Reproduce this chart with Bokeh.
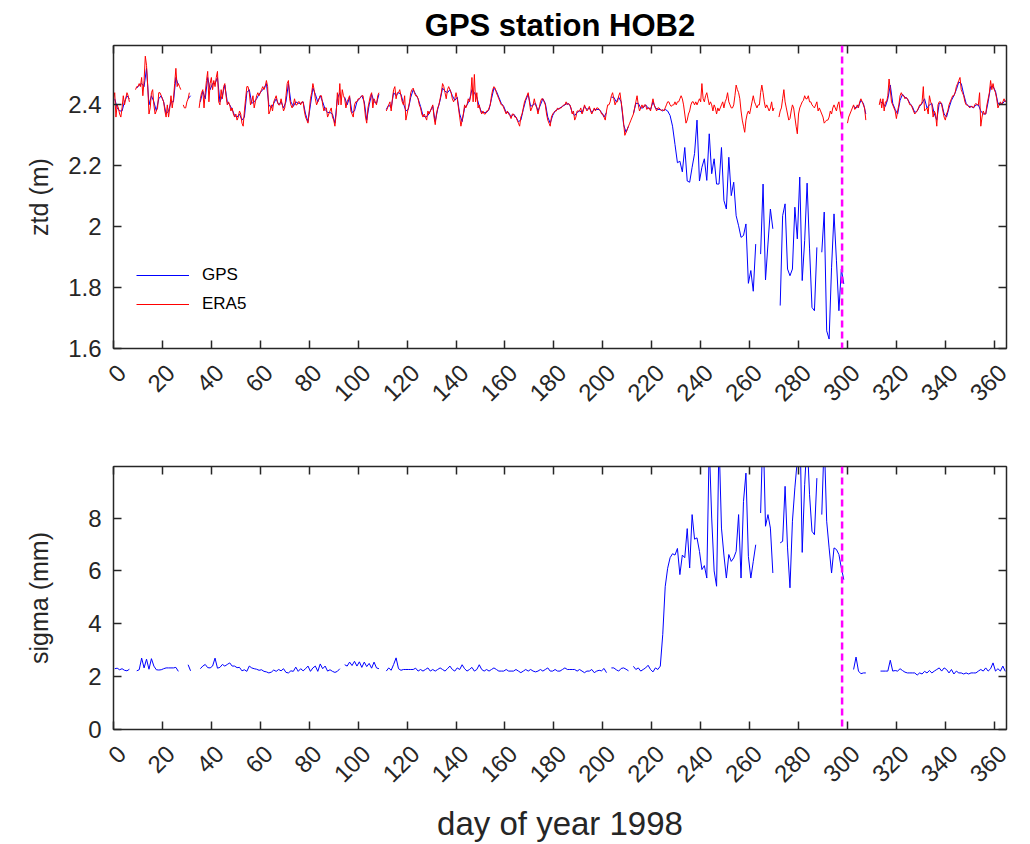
import math
import numpy as np
from bokeh.plotting import figure
from bokeh.layouts import column
from bokeh.models import Range1d, FixedTicker, LinearAxis, Span, Legend, LegendItem
from bokeh.embed import file_html
from bokeh.resources import INLINE

nan = float("nan")

# ERA5 zenith total delay (m), sampled every half day from day 0.0
era5_ztd = [
    2.42, 2.44, 2.36, 2.40, 2.39, 2.37, 2.36, 2.39, 2.43, 2.40, 2.42, 2.44, 2.43, 2.41, nan, nan, nan, nan, 2.45, 2.46,
    2.46, 2.47, 2.46, 2.49, 2.43, 2.48, 2.56, 2.53, 2.46, 2.37, 2.39, 2.44, 2.45, 2.40, 2.37, 2.38, 2.39, 2.44, 2.44, 2.43,
    2.42, 2.41, 2.38, 2.36, 2.40, 2.36, 2.39, 2.43, 2.39, 2.42, 2.47, 2.52, 2.46, 2.47, 2.46, 2.45, nan, 2.40, 2.39, 2.39,
    2.41, 2.42, 2.44, nan, nan, nan, nan, nan, nan, nan, 2.39, 2.42, 2.44, 2.45, 2.39, 2.44, 2.48, 2.51, 2.41, 2.47,
    2.49, 2.45, 2.48, 2.46, 2.49, 2.51, 2.41, 2.40, 2.45, 2.42, 2.46, 2.47, 2.43, 2.40, 2.41, 2.40, 2.38, 2.39, 2.37, 2.36,
    2.37, 2.35, 2.36, 2.38, 2.37, 2.34, 2.33, 2.38, 2.42, 2.46, 2.46, 2.44, 2.40, 2.41, 2.43, 2.39, 2.41, 2.43, 2.44, 2.43,
    2.44, 2.45, 2.46, 2.45, 2.46, 2.48, 2.46, 2.37, 2.38, 2.40, 2.38, 2.41, 2.42, 2.43, 2.41, 2.40, 2.40, 2.42, 2.40, 2.38,
    2.39, 2.43, 2.47, 2.48, 2.42, 2.40, 2.39, 2.40, 2.42, 2.40, 2.40, 2.41, 2.41, 2.40, 2.41, 2.41, 2.38, 2.36, 2.35, 2.34,
    2.38, 2.42, 2.44, 2.47, 2.45, 2.42, 2.40, 2.41, 2.42, 2.43, 2.43, 2.40, 2.38, 2.39, 2.39, 2.36, 2.37, 2.38, 2.39, 2.36,
    2.35, 2.33, 2.37, 2.44, 2.40, 2.47, 2.40, 2.45, 2.43, 2.42, 2.39, 2.41, 2.42, 2.43, 2.38, 2.37, 2.36, 2.40, 2.41, 2.41,
    2.42, 2.42, 2.425, 2.43, 2.43, 2.40, 2.36, 2.34, 2.39, 2.41, 2.43, 2.44, 2.39, 2.42, 2.41, 2.40, 2.43, 2.44, nan, nan,
    nan, nan, nan, 2.38, 2.39, 2.40, 2.41, 2.38, 2.42, 2.45, 2.46, 2.42, 2.44, 2.44, 2.45, 2.43, 2.41, 2.40, 2.43, 2.35,
    2.37, 2.39, 2.41, 2.44, 2.45, 2.455, 2.44, 2.43, 2.43, 2.42, 2.40, 2.39, 2.37, 2.36, 2.37, 2.36, 2.35, 2.38, 2.37, 2.38,
    2.39, 2.40, 2.36, 2.335, 2.37, 2.39, 2.40, 2.42, 2.44, 2.47, 2.46, 2.44, 2.42, 2.45, 2.46, 2.45, 2.44, 2.42, 2.41, 2.42,
    2.44, 2.42, 2.39, 2.36, 2.33, 2.35, 2.37, 2.40, 2.39, 2.40, 2.42, 2.41, 2.43, 2.49, 2.41, 2.50, 2.41, 2.44, 2.39, 2.40,
    2.38, 2.37, 2.38, 2.37, 2.37, 2.38, 2.38, 2.39, 2.40, 2.43, 2.45, 2.46, 2.455, 2.44, 2.43, 2.42, 2.41, 2.40, 2.40, 2.39,
    2.38, 2.37, 2.38, 2.37, 2.365, 2.355, 2.37, 2.37, 2.36, 2.36, 2.35, 2.34, 2.33, 2.36, 2.37, 2.39, 2.41, 2.42, 2.43, 2.44,
    2.41, 2.38, 2.39, 2.40, 2.42, 2.40, 2.39, 2.37, 2.39, 2.41, 2.42, 2.42, 2.41, 2.40, 2.37, 2.35, 2.34, 2.33, 2.36, 2.37,
    2.375, 2.38, 2.38, 2.39, 2.385, 2.39, 2.39, 2.395, 2.40, 2.40, 2.41, 2.40, 2.405, 2.40, 2.39, 2.37, 2.38, 2.35, 2.36, 2.38,
    2.38, 2.38, 2.39, 2.37, 2.38, 2.40, 2.39, 2.38, 2.385, 2.395, 2.38, 2.37, 2.38, 2.39, 2.38, 2.39, 2.39, 2.385, 2.38, 2.37,
    2.37, 2.36, 2.35, 2.38, 2.40, 2.40, 2.41, 2.43, 2.44, 2.42, 2.40, 2.41, 2.41, 2.43, 2.44, 2.41, 2.38, 2.34, 2.30, 2.31,
    2.32, 2.33, 2.34, 2.35, 2.36, 2.37, 2.39, 2.41, 2.43, 2.40, 2.38, 2.39, 2.40, 2.39, 2.40, 2.40, 2.385, 2.39, 2.39, 2.38,
    2.40, 2.42, 2.40, 2.39, 2.38, 2.39, 2.39, 2.385, 2.38, 2.385, 2.38, 2.39, 2.40, 2.41, 2.41, 2.40, 2.395, 2.40, 2.40, 2.41,
    2.40, 2.41, 2.41, 2.42, 2.43, 2.42, 2.40, 2.37, 2.34, 2.35, 2.37, 2.38, 2.40, 2.41, 2.41, 2.40, 2.41, 2.40, 2.41, 2.42,
    2.41, 2.47, 2.42, 2.41, 2.43, 2.44, 2.42, 2.40, 2.41, 2.40, 2.38, 2.40, 2.39, 2.37, 2.39, 2.38, 2.39, 2.40, 2.41, 2.39,
    2.41, 2.42, 2.44, 2.41, 2.40, 2.39, 2.39, 2.40, 2.43, 2.465, 2.45, 2.44, 2.42, 2.38, 2.35, 2.33, 2.31, 2.35, 2.37, 2.38,
    2.37, 2.39, 2.41, 2.43, 2.41, 2.40, 2.39, 2.40, 2.40, 2.44, 2.465, 2.44, 2.41, 2.39, 2.40, 2.39, 2.38, 2.39, 2.41, 2.38,
    2.39, nan, nan, nan, 2.36, 2.38, 2.39, 2.42, 2.45, 2.41, 2.39, 2.37, 2.35, 2.355, 2.38, 2.40, 2.39, 2.36, 2.33, 2.305,
    2.37, 2.39, 2.40, 2.41, 2.415, 2.43, 2.42, 2.42, 2.43, 2.41, 2.41, 2.40, 2.395, 2.39, 2.40, 2.41, 2.38, 2.39, 2.38, 2.37,
    2.36, 2.34, 2.345, 2.35, 2.35, 2.36, 2.38, 2.37, 2.39, 2.40, 2.39, 2.38, 2.40, 2.41, 2.38, 2.36, 2.37, nan, nan, nan,
    2.34, 2.36, 2.37, 2.38, 2.39, 2.40, 2.385, 2.39, 2.40, 2.39, 2.41, 2.42, 2.41, 2.40, 2.39, 2.35, nan, nan, nan, nan,
    nan, nan, nan, nan, nan, nan, 2.40, 2.42, 2.39, 2.42, 2.38, 2.41, 2.41, 2.43, 2.485, 2.45, 2.41, 2.40, 2.39, 2.38,
    2.355, 2.38, 2.40, 2.43, 2.44, 2.43, 2.43, 2.42, 2.425, 2.42, 2.41, 2.40, 2.40, 2.39, 2.38, 2.37, 2.375, 2.38, 2.39, 2.40,
    2.40, 2.41, 2.46, 2.38, 2.385, 2.39, 2.37, 2.43, 2.41, 2.40, 2.36, 2.38, 2.37, 2.33, 2.40, 2.41, 2.41, 2.40, 2.38, 2.36,
    2.35, 2.37, 2.38, 2.40, 2.41, 2.42, 2.43, 2.43, 2.44, 2.46, 2.47, 2.48, 2.49, 2.45, 2.44, 2.43, 2.41, 2.40, 2.40, 2.395,
    2.39, 2.395, 2.395, 2.39, 2.40, 2.405, 2.40, 2.40, 2.44, 2.33, 2.36, 2.38, 2.37, 2.37, 2.40, 2.42, 2.44, 2.48, 2.45, 2.47,
    2.45, 2.44, 2.42, 2.39, 2.40, 2.41, 2.40, 2.41, 2.42, 2.41, 2.415,
]

# GPS zenith total delay (m), one value per day, centred on each day
gps_ztd = [
    2.42, 2.39, 2.38, 2.38, 2.41, 2.43, 2.42, nan, nan, 2.455,
    2.465, 2.47, 2.46, 2.52, 2.40, 2.43, 2.41, 2.38, 2.42, 2.43,
    2.41, 2.37, 2.38, 2.41, 2.41, 2.49, 2.465, nan, nan, nan,
    2.42, 2.43, nan, nan, nan, 2.41, 2.445, 2.42, 2.49, 2.45,
    2.47, 2.47, 2.49, 2.41, 2.43, 2.465, 2.41, 2.40, 2.385, 2.365,
    2.36, 2.37, 2.35, 2.36, 2.44, 2.45, 2.405, 2.41, 2.42, 2.435,
    2.445, 2.455, 2.47, 2.40, 2.39, 2.405, 2.42, 2.40, 2.41, 2.39,
    2.41, 2.47, 2.41, 2.395, 2.41, 2.405, 2.405, 2.41, 2.37, 2.345,
    2.40, 2.455, 2.435, 2.41, 2.43, 2.41, 2.385, 2.375, 2.375, 2.37,
    2.34, 2.42, 2.44, nan, 2.425, 2.40, 2.425, 2.375, 2.38, 2.41,
    2.42, 2.43, 2.41, 2.35, 2.40, 2.435, 2.41, 2.405, 2.435, nan,
    nan, 2.385, 2.40, 2.39, 2.44, 2.43, 2.44, 2.435, 2.405, 2.38,
    2.385, 2.425, 2.45, 2.435, 2.42, 2.395, 2.365, 2.36, 2.365, 2.38,
    2.395, 2.345, 2.385, 2.415, 2.455, 2.445, 2.44, 2.45, 2.43, 2.415,
    2.425, 2.37, 2.345, 2.39, 2.40, 2.415, 2.45, 2.44, 2.425, 2.395,
    2.375, 2.375, 2.375, 2.385, 2.42, 2.455, 2.445, 2.425, 2.405, 2.395,
    2.375, 2.375, 2.36, 2.37, 2.36, 2.345, 2.35, 2.385, 2.415, 2.435,
    2.395, 2.40, 2.405, 2.38, 2.40, 2.42, 2.405, 2.36, 2.34, 2.365,
    2.38, 2.385, 2.39, 2.395, 2.40, 2.405, 2.40, 2.375, 2.365, 2.375,
    2.38, 2.375, 2.395, 2.385, 2.39, 2.375, 2.385, 2.385, 2.385, 2.375,
    2.36, 2.375, nan, 2.425, 2.425, 2.41, 2.425, 2.41, 2.335, 2.31,
    2.33, nan, 2.37, 2.405, 2.405, 2.39, 2.39, 2.40, 2.39, 2.385,
    2.41, 2.39, 2.385, 2.385, 2.38, 2.385, 2.38, 2.365, 2.33, 2.27,
    2.21, 2.215, 2.18, 2.26, 2.15, 2.146, 2.195, 2.24, 2.35, 2.15,
    2.195, 2.223, 2.152, 2.305, 2.174, 2.223, 2.14, 2.14, 2.26, 2.086,
    2.058, 2.228, 2.102, 2.146, 2.036, 2.003, 1.965, 1.971, 2.009, 1.814,
    1.856, 1.788, 1.943, nan, 1.910, 2.14, 1.825, 1.943, 2.058, 1.993,
    nan, nan, 1.741, 2.036, 2.075, 1.861, 1.839, 1.861, 2.064, 1.96,
    2.163, 1.823, 1.954, 2.143, 1.927, 1.735, 1.724, 1.932, nan, 1.916,
    2.048, 1.658, 1.631, 1.867, 2.042, 1.888, 1.724, 1.861, 1.812, nan,
    nan, nan, 2.395, 2.39, 2.395, 2.415, 2.405, 2.37, nan, nan,
    nan, nan, nan, 2.41, 2.405, 2.395, 2.42, 2.465, 2.405, 2.385,
    2.37, 2.415, 2.435, 2.425, 2.42, 2.405, 2.395, 2.375, 2.38, 2.395,
    2.405, 2.42, 2.39, 2.40, 2.405, 2.37, 2.35, 2.405, 2.405, 2.37,
    2.36, 2.39, 2.415, 2.43, 2.45, 2.475, 2.47, 2.435, 2.405, 2.395,
    2.395, 2.39, 2.40, 2.40, 2.38, 2.37, 2.37, 2.41, 2.46, 2.46,
    2.445, 2.405, 2.405, 2.405, 2.415,
]

# GPS formal error (mm), one value per day
gps_sigma = [
    2.30, 2.32, 2.26, 2.30, 2.24, 2.22, 2.28, nan, nan, 2.22,
    2.26, 2.70, 2.33, 2.66, 2.28, 2.68, 2.40, 2.26, 2.25, 2.26,
    2.30, 2.33, 2.33, 2.33, 2.33, 2.35, 2.20, nan, nan, nan,
    2.45, 2.22, nan, nan, nan, 2.30, 2.40, 2.46, 2.34, 2.33,
    2.40, 2.70, 2.32, 2.35, 2.46, 2.40, 2.46, 2.52, 2.40, 2.40,
    2.34, 2.35, 2.22, 2.26, 2.20, 2.40, 2.33, 2.30, 2.28, 2.24,
    2.26, 2.20, 2.18, 2.14, 2.17, 2.25, 2.20, 2.27, 2.22, 2.30,
    2.16, 2.14, 2.22, 2.20, 2.36, 2.20, 2.30, 2.22, 2.30, 2.40,
    2.20, 2.33, 2.40, 2.20, 2.48, 2.30, 2.40, 2.21, 2.26, 2.20,
    2.16, 2.20, 2.30, nan, 2.45, 2.40, 2.55, 2.42, 2.58, 2.40,
    2.56, 2.35, 2.55, 2.38, 2.50, 2.32, 2.55, 2.33, 2.30, nan,
    nan, 2.21, 2.33, 2.24, 2.46, 2.71, 2.30, 2.24, 2.27, 2.27,
    2.27, 2.27, 2.27, 2.32, 2.21, 2.27, 2.21, 2.27, 2.33, 2.21,
    2.27, 2.21, 2.27, 2.33, 2.27, 2.21, 2.30, 2.40, 2.27, 2.21,
    2.33, 2.27, 2.45, 2.30, 2.21, 2.27, 2.35, 2.21, 2.27, 2.45,
    2.27, 2.21, 2.27, 2.21, 2.27, 2.33, 2.27, 2.21, 2.21, 2.21,
    2.27, 2.21, 2.21, 2.21, 2.27, 2.21, 2.15, 2.21, 2.27, 2.21,
    2.27, 2.21, 2.18, 2.21, 2.27, 2.21, 2.27, 2.33, 2.21, 2.21,
    2.27, 2.21, 2.21, 2.27, 2.33, 2.27, 2.27, 2.27, 2.27, 2.21,
    2.27, 2.21, 2.15, 2.21, 2.21, 2.27, 2.15, 2.21, 2.24, 2.22,
    2.31, 2.15, nan, 2.33, 2.33, 2.26, 2.21, 2.31, 2.33, 2.28,
    2.22, nan, 2.39, 2.27, 2.33, 2.21, 2.27, 2.33, 2.43, 2.27,
    2.18, 2.33, 2.27, 2.40, 3.60, 5.40, 6.10, 6.50, 6.65, 6.60,
    6.85, 5.86, 6.60, 6.50, 7.60, 6.11, 8.13, 7.20, 7.25, 6.74,
    6.05, 6.20, 5.73, 10.8, 8.00, 6.00, 5.42, 11.0, 7.62, 6.60,
    5.73, 6.62, 6.36, 6.49, 6.74, 8.13, 5.73, 8.63, 9.70, 6.55,
    5.73, 6.36, 6.99, nan, 8.19, 11.5, 7.69, 8.13, 7.62, 5.92,
    nan, nan, 7.06, 7.12, 9.20, 6.87, 5.36, 7.88, 9.14, 10.2,
    12.0, 6.70, 9.26, 11.0, 8.88, 7.50, 7.37, 9.51, nan, 8.13,
    11.0, 7.88, 6.87, 5.92, 6.87, 6.81, 6.62, 6.11, 5.67, nan,
    nan, nan, 2.27, 2.74, 2.21, 2.11, 2.14, 2.14, nan, nan,
    nan, nan, nan, 2.21, 2.21, 2.21, 2.21, 2.62, 2.21, 2.23,
    2.21, 2.30, 2.23, 2.17, 2.14, 2.14, 2.14, 2.14, 2.06, 2.14,
    2.10, 2.20, 2.14, 2.23, 2.14, 2.21, 2.27, 2.33, 2.21, 2.33,
    2.27, 2.14, 2.27, 2.10, 2.21, 2.14, 2.14, 2.10, 2.14, 2.10,
    2.14, 2.14, 2.14, 2.21, 2.27, 2.21, 2.33, 2.21, 2.30, 2.52,
    2.21, 2.30, 2.21, 2.40, 2.20,
]

day_ticks = list(range(0, 361, 20))
day_tick_labels = [str(t) for t in day_ticks]
ztd_ticks = [1.6, 1.8, 2.0, 2.2, 2.4]
ztd_tick_labels = ["1.6", "1.8", "2", "2.2", "2.4"]
sigma_ticks = [0, 2, 4, 6, 8]
event_day = 297.8  # antenna change marker

era5_day = np.arange(len(era5_ztd)) * 0.5
gps_day = np.arange(len(gps_ztd)) + 0.5

FONT = "Liberation Sans"
AX = "#262626"
TICK_FS = "24px"
YLABEL_FS = "25px"
XLABEL_FS = "33px"
LABEL_NUDGE = 3.3  # slanted day labels hang slightly right of their tick


def new_panel(height, top, bottom, y_range):
    p = figure(width=1030, height=height, x_range=Range1d(0, 365), y_range=y_range,
               output_backend="svg", toolbar_location=None, tools="",
               min_border_left=113, min_border_right=24,
               min_border_top=top, min_border_bottom=bottom)
    p.background_fill_color = "white"
    p.border_fill_color = "white"
    p.outline_line_color = AX
    p.outline_line_width = 1
    p.xgrid.visible = False
    p.ygrid.visible = False
    return p


def style_axis(ax, ticks, labels=None):
    ax.ticker = FixedTicker(ticks=ticks)
    ax.minor_tick_line_color = None
    ax.major_tick_in = 8
    ax.major_tick_out = 0
    ax.major_tick_line_color = AX
    ax.major_tick_line_width = 1.5
    ax.axis_line_color = AX
    ax.axis_line_width = 1.5
    ax.major_label_text_font = FONT
    ax.major_label_text_font_size = TICK_FS
    ax.major_label_text_color = AX
    ax.axis_label_text_font = FONT
    ax.axis_label_text_font_size = YLABEL_FS
    ax.axis_label_text_font_style = "normal"
    ax.axis_label_text_color = AX
    if labels is not None:
        ax.major_label_overrides = {t: s for t, s in zip(ticks, labels)}


def hide_labels(ax):
    ax.major_label_text_color = None
    ax.major_label_text_font_size = "1px"
    ax.major_label_standoff = 0


def add_mirror(p, yticks):
    # ticks repeated on the top and right edges of the box, without labels
    top_ax = LinearAxis()
    right_ax = LinearAxis()
    style_axis(top_ax, day_ticks)
    style_axis(right_ax, yticks)
    hide_labels(top_ax)
    hide_labels(right_ax)
    p.add_layout(top_ax, "above")
    p.add_layout(right_ax, "right")


def add_day_axis(p, xlabel=None):
    # tick marks on the bottom edge, then slanted labels in a second row
    style_axis(p.xaxis[0], day_ticks)
    hide_labels(p.xaxis[0])
    lab = LinearAxis()
    style_axis(lab, [t + LABEL_NUDGE for t in day_ticks], day_tick_labels)
    lab.major_tick_line_color = None
    lab.axis_line_color = None
    lab.major_label_orientation = math.pi / 4
    lab.major_label_standoff = 20
    if xlabel:
        lab.axis_label = xlabel
        lab.axis_label_text_font_size = XLABEL_FS
        lab.axis_label_standoff = 12
    p.add_layout(lab, "below")


# ---- upper panel: zenith total delay ----
p1 = new_panel(420, 45, 72, Range1d(1.6, 2.595))
p1.title.text = "GPS station HOB2"
p1.title.align = "center"
p1.title.text_font = FONT
p1.title.text_font_size = "31px"
p1.title.text_font_style = "bold"
p1.title.text_color = "black"
p1.title.standoff = 6

r_gps = p1.line(gps_day, gps_ztd, line_color="#0000FF", line_width=1)
r_era5 = p1.line(era5_day, era5_ztd, line_color="#FF0000", line_width=1)
p1.add_layout(Span(location=event_day, dimension="height", line_color="#FF00FF",
                   line_dash="7 4", line_width=2.5))

add_day_axis(p1)
style_axis(p1.yaxis[0], ztd_ticks, ztd_tick_labels)
p1.yaxis[0].axis_label = "ztd (m)"
p1.yaxis[0].major_label_standoff = 12
p1.yaxis[0].axis_label_standoff = 12
add_mirror(p1, ztd_ticks)

legend = Legend(items=[LegendItem(label="GPS", renderers=[r_gps]),
                       LegendItem(label="ERA5", renderers=[r_era5])],
                location=(23, 34), border_line_color=None, background_fill_alpha=0,
                label_text_font=FONT, label_text_font_size="17px", label_text_color="black",
                glyph_width=53, glyph_height=20, label_standoff=13, spacing=9,
                padding=5, margin=0)
p1.add_layout(legend)

# ---- lower panel: formal error ----
p2 = new_panel(424, 46, 115, Range1d(0, 9.95))
p2.line(gps_day, gps_sigma, line_color="#0000FF", line_width=1)
p2.add_layout(Span(location=event_day, dimension="height", line_color="#FF00FF",
                   line_dash="7 4", line_width=2.5))

add_day_axis(p2, "day of year 1998")
style_axis(p2.yaxis[0], sigma_ticks)
p2.yaxis[0].axis_label = "sigma (mm)"
p2.yaxis[0].major_label_standoff = 12
p2.yaxis[0].axis_label_standoff = 32
add_mirror(p2, sigma_ticks)

layout = column(p1, p2, spacing=0)
open("out.html", "w").write(file_html(layout, INLINE))
